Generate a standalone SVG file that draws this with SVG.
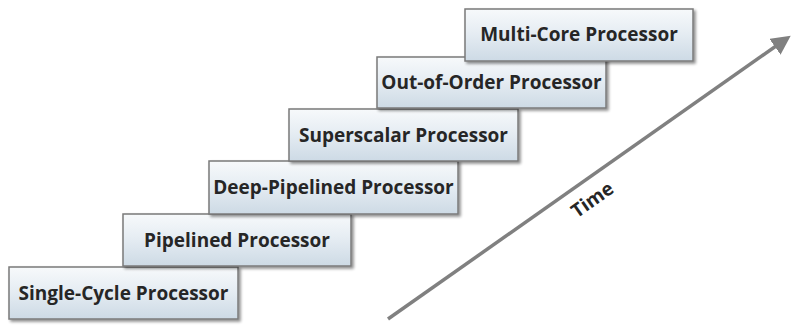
<svg xmlns="http://www.w3.org/2000/svg" width="793" height="325" viewBox="0 0 793 325">
  <defs>
    <linearGradient id="boxFill" x1="0" y1="0" x2="0" y2="1">
      <stop offset="0" stop-color="#f7f9fb"/>
      <stop offset="0.45" stop-color="#e6edf3"/>
      <stop offset="1" stop-color="#cddae5"/>
    </linearGradient>
    <filter id="shadow" x="-5%" y="-10%" width="115%" height="130%">
      <feGaussianBlur in="SourceAlpha" stdDeviation="1.5"/>
      <feOffset dx="2" dy="2" result="b"/>
      <feComponentTransfer><feFuncA type="linear" slope="0.45"/></feComponentTransfer>
      <feMerge><feMergeNode/><feMergeNode in="SourceGraphic"/></feMerge>
    </filter>
    <marker id="arrowHead" viewBox="0 0 10 10" refX="7" refY="5" markerWidth="5.5" markerHeight="5.5" orient="auto" markerUnits="strokeWidth">
      <path d="M0,0 L10,5 L0,10 Z" fill="#808080"/>
    </marker>
  </defs>
  <style>
    .box { fill: url(#boxFill); stroke: #7a7a7a; stroke-width: 1.5; filter: url(#shadow); }
    .label { font-family: "Open Sans", "Noto Sans", "DejaVu Sans", sans-serif; font-weight: bold; font-size: 19px; fill: #262626; text-anchor: middle; }
  </style>

  <g id="connectors">
    <line x1="388" y1="319" x2="786" y2="39" stroke="#808080" stroke-width="3.5" marker-end="url(#arrowHead)"/>
    <text class="label" transform="translate(596,205) rotate(-35)">Time</text>
  </g>

  <g id="single-cycle">
    <rect class="box" x="9" y="267" width="229" height="52"/>
    <text class="label" x="123.5" y="300">Single-Cycle Processor</text>
  </g>
  <g id="pipelined">
    <rect class="box" x="123" y="214" width="228" height="52"/>
    <text class="label" x="237" y="247">Pipelined Processor</text>
  </g>
  <g id="deep-pipelined">
    <rect class="box" x="209" y="161" width="249" height="53"/>
    <text class="label" x="333.5" y="194">Deep-Pipelined Processor</text>
  </g>
  <g id="superscalar">
    <rect class="box" x="289" y="109" width="229" height="52"/>
    <text class="label" x="403.5" y="142">Superscalar Processor</text>
  </g>
  <g id="out-of-order">
    <rect class="box" x="377" y="57" width="229" height="51"/>
    <text class="label" x="491.5" y="89">Out-of-Order Processor</text>
  </g>
  <g id="multi-core">
    <rect class="box" x="465" y="9" width="228" height="52"/>
    <text class="label" x="579" y="41">Multi-Core Processor</text>
  </g>
</svg>
